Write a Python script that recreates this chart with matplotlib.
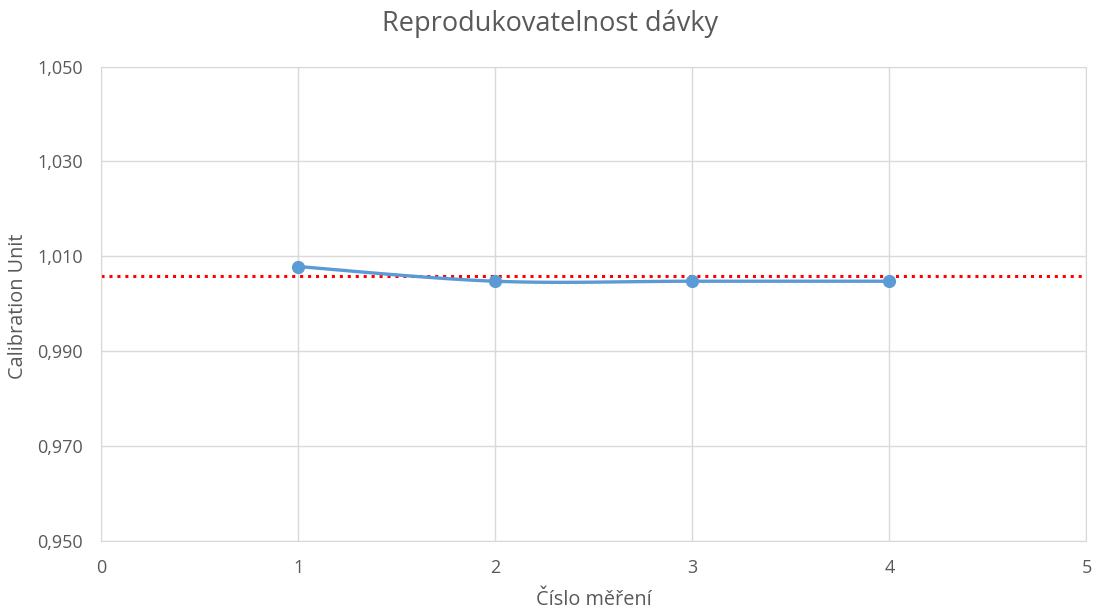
import numpy as np
import matplotlib
matplotlib.use("Agg")
import matplotlib.pyplot as plt
from matplotlib.ticker import FuncFormatter

# Data
measurements = [1, 2, 3, 4]
values = [1.0078, 1.0047, 1.0047, 1.0047]
reference_level = 1.0059
x_ticks = [0, 1, 2, 3, 4, 5]
y_ticks = [0.950, 0.970, 0.990, 1.010, 1.030, 1.050]

plt.rcParams['font.family'] = ['Open Sans', 'DejaVu Sans']
gray = '#595959'

fig = plt.figure(figsize=(11, 6.12), dpi=100)
ax = fig.add_axes([0.0918, 0.1168, 0.8959, 0.7745])

# Excel-like smoothed line (Catmull-Rom via cubic Bezier segments)
xs = np.array(measurements, dtype=float)
ys = np.array(values, dtype=float)
px, py = [], []
n = len(xs)
t = np.linspace(0, 1, 40)
for i in range(n - 1):
    p0 = np.array([xs[max(i - 1, 0)], ys[max(i - 1, 0)]])
    p1 = np.array([xs[i], ys[i]])
    p2 = np.array([xs[i + 1], ys[i + 1]])
    p3 = np.array([xs[min(i + 2, n - 1)], ys[min(i + 2, n - 1)]])
    c1 = p1 + (p2 - p0) / 6
    c2 = p2 - (p3 - p1) / 6
    b = ((1 - t) ** 3)[:, None] * p1 + (3 * (1 - t) ** 2 * t)[:, None] * c1 + \
        (3 * (1 - t) * t ** 2)[:, None] * c2 + (t ** 3)[:, None] * p2
    px.extend(b[:, 0]); py.extend(b[:, 1])

ax.plot(px, py, color='#5b9bd5', lw=2.4, solid_capstyle='round', zorder=3)
ax.plot(xs, ys, 'o', color='#5b9bd5', ms=8.5, zorder=4)
ax.axhline(reference_level, color='red', lw=2.2, ls=(0, (1, 1.6)), zorder=2)

ax.set_xlim(0, 5)
ax.set_ylim(0.950, 1.050)
ax.set_xticks(x_ticks)
ax.set_yticks(y_ticks)
ax.yaxis.set_major_formatter(FuncFormatter(lambda v, p: f"{v:.3f}".replace('.', ',')))
ax.grid(True, color='#d9d9d9', lw=1)
ax.set_axisbelow(True)
for s in ax.spines.values():
    s.set_color('#d9d9d9')
ax.tick_params(length=0, colors=gray, labelsize=13)
ax.tick_params(axis='x', pad=13)
ax.tick_params(axis='y', pad=13)

ax.set_xlabel('Číslo měření', color=gray, fontsize=14.3, labelpad=10)
fig.text(18 / 1100, 1 - 306 / 612, 'Calibration Unit', color=gray, fontsize=14.3,
         rotation=90, ha='center', va='center')
fig.suptitle('Reprodukovatelnost dávky', color=gray, fontsize=19.5, y=0.985)

fig.savefig('out.png', dpi=100)
